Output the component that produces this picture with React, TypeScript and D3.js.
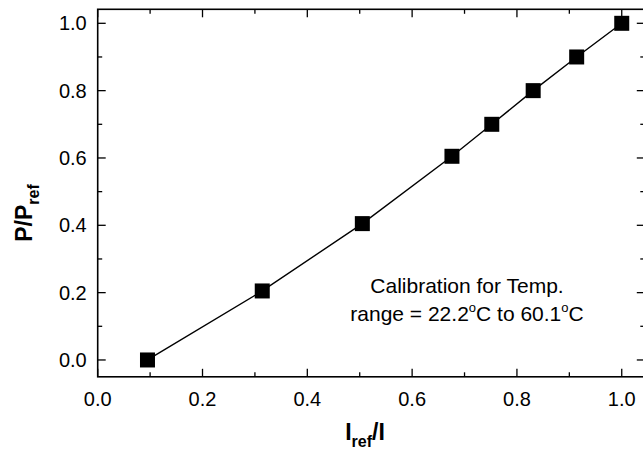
import React from "react";
import * as d3 from "d3";

// values
const xValues = [0.095, 0.314, 0.505, 0.676, 0.752, 0.831, 0.914, 1.0];
const yValues = [0.0, 0.205, 0.405, 0.605, 0.7, 0.8, 0.9, 1.0];
const majorTicks = [0, 0.2, 0.4, 0.6, 0.8, 1.0];
const minorTicks = [0.1, 0.3, 0.5, 0.7, 0.9];

const W = 643;
const H = 451;
const FONT = "Liberation Sans, Arial, Helvetica, sans-serif";

const App: React.FC = () => {
  const x = d3.scaleLinear().domain([0, 1.044]).range([97.7, 644.8]);
  const y = d3.scaleLinear().domain([-0.05, 1.0416]).range([376.8, 9.3]);

  const [x0, x1] = x.range();
  const [y0, y1] = y.range();

  const points = xValues.map((v, i) => [x(v), y(yValues[i])] as [number, number]);
  const line = d3.line<[number, number]>().x((d) => d[0]).y((d) => d[1]);

  const major = 8;
  const minor = 4.5;
  const sq = 15;

  return (
    <svg
      width={W}
      height={H}
      style={{ position: "absolute", left: 0, top: 0, background: "#fff" }}
      fontFamily={FONT}
    >
      <rect width={W} height={H} fill="#fff" />

      {/* ticks, all pointing inward */}
      <g stroke="#000" strokeWidth={1.3}>
        {majorTicks.map((t) => (
          <g key={"mx" + t}>
            <line x1={x(t)} x2={x(t)} y1={y0} y2={y0 - major} />
            <line x1={x(t)} x2={x(t)} y1={y1} y2={y1 + major} />
            <line y1={y(t)} y2={y(t)} x1={x0} x2={x0 + major} />
            <line y1={y(t)} y2={y(t)} x1={x1} x2={x1 - major} />
          </g>
        ))}
        {minorTicks.map((t) => (
          <g key={"mn" + t}>
            <line x1={x(t)} x2={x(t)} y1={y0} y2={y0 - minor} />
            <line x1={x(t)} x2={x(t)} y1={y1} y2={y1 + minor} />
            <line y1={y(t)} y2={y(t)} x1={x0} x2={x0 + minor} />
            <line y1={y(t)} y2={y(t)} x1={x1} x2={x1 - minor} />
          </g>
        ))}
      </g>

      <rect
        x={x0}
        y={y1}
        width={x1 - x0}
        height={y0 - y1}
        fill="none"
        stroke="#000"
        strokeWidth={1.6}
      />

      {/* tick labels */}
      <g fontSize={20} fill="#000">
        {majorTicks.map((t) => (
          <text key={"lx" + t} x={x(t)} y={y0 + 29} textAnchor="middle">
            {t.toFixed(1)}
          </text>
        ))}
        {majorTicks.map((t) => (
          <text key={"ly" + t} x={x0 - 11} y={y(t) + 7} textAnchor="end">
            {t.toFixed(1)}
          </text>
        ))}
      </g>

      {/* data */}
      <path d={line(points) ?? ""} fill="none" stroke="#000" strokeWidth={1.4} />
      {points.map(([px, py], i) => (
        <rect key={i} x={px - sq / 2} y={py - sq / 2} width={sq} height={sq} fill="#000" />
      ))}

      {/* annotation */}
      <g fontSize={21} fill="#000" textAnchor="middle">
        <text x={467} y={293}>Calibration for Temp.</text>
        <text x={467} y={321}>
          range = 22.2
          <tspan fontSize={13} dy={-9}>o</tspan>
          <tspan dy={9}>C to 60.1</tspan>
          <tspan fontSize={13} dy={-9}>o</tspan>
          <tspan dy={9}>C</tspan>
        </text>
      </g>

      {/* axis titles */}
      <text x={365} y={440} fontSize={23} fontWeight="bold" textAnchor="middle">
        I<tspan fontSize={16} dy={7}>ref</tspan>
        <tspan dy={-7}>/I</tspan>
      </text>
      <text
        transform="translate(32,213) rotate(-90)"
        fontSize={23}
        fontWeight="bold"
        textAnchor="middle"
      >
        P/P<tspan fontSize={16} dy={7}>ref</tspan>
      </text>
    </svg>
  );
};

export default App;
